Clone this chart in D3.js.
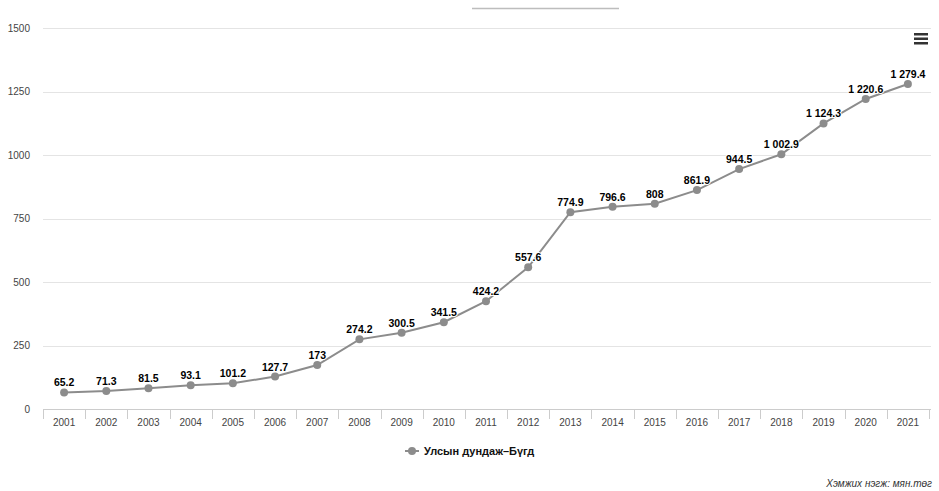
<!DOCTYPE html>
<html>
<head>
<meta charset="utf-8">
<script src="https://cdn.jsdelivr.net/npm/d3@7/dist/d3.min.js"></script>
<style>
  html, body { margin: 0; padding: 0; background: #fff; }
  svg { display: block; }
</style>
</head>
<body>
<svg id="chart" width="939" height="491"></svg>
<script>
const years = ["2001","2002","2003","2004","2005","2006","2007","2008","2009","2010","2011","2012","2013","2014","2015","2016","2017","2018","2019","2020","2021"];
const values = [65.2, 71.3, 81.5, 93.1, 101.2, 127.7, 173, 274.2, 300.5, 341.5, 424.2, 557.6, 774.9, 796.6, 808, 861.9, 944.5, 1002.9, 1124.3, 1220.6, 1279.4];
const yTicks = [0, 250, 500, 750, 1000, 1250, 1500];
const seriesName = "Улсын дундаж–Бүгд";
const unitNote = "Хэмжих нэгж: мян.төг";

const W = 939, H = 491;
const m = { left: 43, right: 10, top: 28, bottom: 82 };
const svg = d3.select("#chart");
const font = "'Liberation Sans', Arial, sans-serif";

const x = d3.scaleBand().domain(years).range([m.left, 929]).padding(0);
const y = d3.scaleLinear().domain([0, 1500]).range([409, 28]);

// title placeholder line
svg.append("line").attr("x1", 472).attr("x2", 619).attr("y1", 8.5).attr("y2", 8.5)
  .attr("stroke", "#bdbdbd").attr("stroke-width", 1.5);

// gridlines
svg.append("g").selectAll("line").data(yTicks.filter(d => d > 0)).join("line")
  .attr("x1", m.left).attr("x2", 931)
  .attr("y1", d => Math.round(y(d)) + 0.5).attr("y2", d => Math.round(y(d)) + 0.5)
  .attr("stroke", "#e4e4e4").attr("stroke-width", 1);

// y labels
svg.append("g").selectAll("text").data(yTicks).join("text")
  .attr("x", 30).attr("y", d => y(d) + 3.5)
  .attr("text-anchor", "end")
  .attr("font-family", font).attr("font-size", 10).attr("fill", "#444")
  .text(d => d);

// x axis
const xAxis = d3.axisBottom(x).tickSize(0).tickPadding(10);
const gx = svg.append("g").attr("transform", "translate(0,409.5)").call(xAxis);
gx.select(".domain").attr("stroke", "#cccccc").attr("d", `M${m.left},0H931`);
gx.selectAll("text").attr("font-family", font).attr("font-size", 10).attr("fill", "#444").attr("dy", "0.65em");
// tick marks at band edges
const edges = years.map(d => x(d)).concat([x(years[years.length - 1]) + x.bandwidth()]);
svg.append("g").selectAll("line").data(edges).join("line")
  .attr("x1", d => Math.round(d) + 0.5).attr("x2", d => Math.round(d) + 0.5)
  .attr("y1", 409).attr("y2", 419)
  .attr("stroke", "#cccccc");

const cx = d => x(d) + x.bandwidth() / 2;
const data = years.map((yr, i) => ({ yr, v: values[i] }));

// line
const lineGen = d3.line().x(d => cx(d.yr)).y(d => y(d.v));
svg.append("path").datum(data).attr("d", lineGen)
  .attr("fill", "none").attr("stroke", "#8c8c8c").attr("stroke-width", 2);

// markers
svg.append("g").selectAll("circle").data(data).join("circle")
  .attr("cx", d => cx(d.yr)).attr("cy", d => y(d.v)).attr("r", 4)
  .attr("fill", "#8c8c8c");

// labels
const fmt = v => {
  const s = String(v);
  const [ip, dp] = s.split(".");
  const g = ip.replace(/\B(?=(\d{3})+(?!\d))/g, " ");
  return dp ? g + "." + dp : g;
};
svg.append("g").selectAll("text").data(data).join("text")
  .attr("x", d => cx(d.yr)).attr("y", d => y(d.v) - 6)
  .attr("text-anchor", "middle")
  .attr("font-family", font).attr("font-size", 10.5).attr("font-weight", "bold")
  .attr("fill", "#000")
  .attr("stroke", "#fff").attr("stroke-width", 2).attr("paint-order", "stroke")
  .text(d => fmt(d.v));

// menu icon
svg.append("g").selectAll("rect").data([0, 1, 2]).join("rect")
  .attr("x", 914).attr("y", d => 33 + d * 4.5).attr("width", 14).attr("height", 2.5)
  .attr("fill", "#333");

// legend
const lg = svg.append("g");
lg.append("line").attr("x1", 405).attr("x2", 419).attr("y1", 451).attr("y2", 451)
  .attr("stroke", "#8c8c8c").attr("stroke-width", 2);
lg.append("circle").attr("cx", 412).attr("cy", 451).attr("r", 4).attr("fill", "#8c8c8c");
lg.append("text").attr("x", 424).attr("y", 455)
  .attr("font-family", font).attr("font-size", 11).attr("font-weight", "bold").attr("fill", "#111")
  .text(seriesName);

// unit note
svg.append("text").attr("x", 932).attr("y", 487).attr("text-anchor", "end")
  .attr("font-family", font).attr("font-size", 10).attr("font-style", "italic").attr("fill", "#333")
  .text(unitNote);
</script>
</body>
</html>
